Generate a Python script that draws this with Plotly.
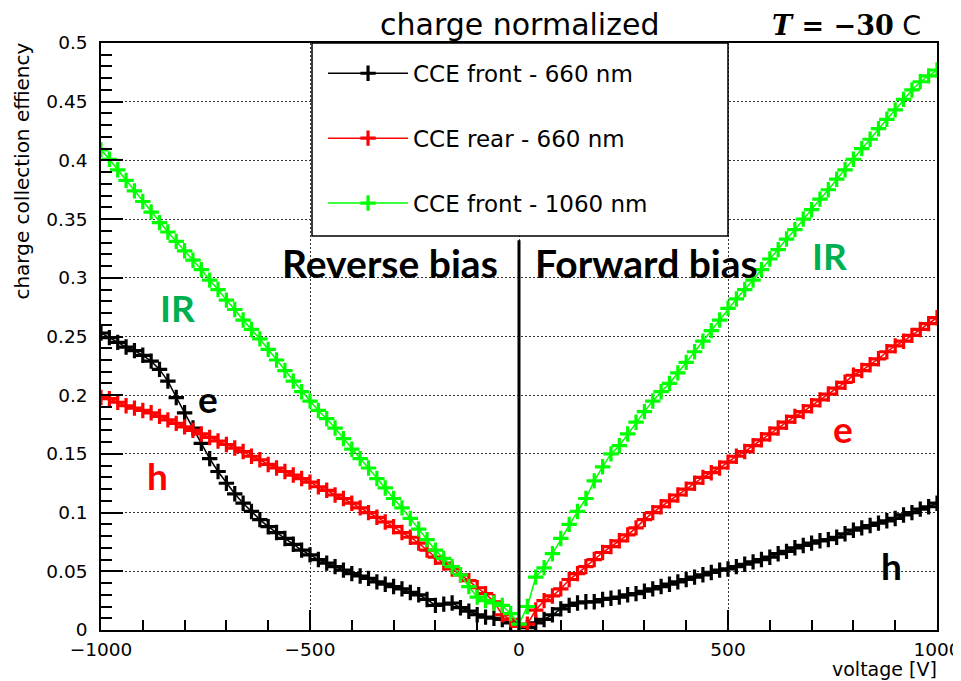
import plotly.graph_objects as go

# Voltage sample points [V]
voltage = list(range(-1000, 1001, 20))

# CCE front - 660 nm (black)
cce_front_660 = [
    0.253, 0.249, 0.245, 0.241, 0.238, 0.234, 0.229, 0.222, 0.212, 0.198,
    0.185, 0.172, 0.159, 0.146, 0.135, 0.125, 0.116, 0.108, 0.101, 0.094,
    0.088, 0.083, 0.078, 0.073, 0.068, 0.064, 0.060, 0.057, 0.054, 0.051,
    0.048, 0.046, 0.044, 0.041, 0.039, 0.037, 0.035, 0.032, 0.030, 0.026,
    0.021, 0.022, 0.023, 0.019, 0.016, 0.013, 0.011, 0.010, 0.009, 0.006,
    0.003,
    0.002, 0.006, 0.009, 0.013, 0.018, 0.021, 0.023, 0.024, 0.024, 0.026,
    0.027, 0.028, 0.030, 0.031, 0.033, 0.035, 0.037, 0.039, 0.041, 0.043,
    0.045, 0.047, 0.049, 0.051, 0.052, 0.054, 0.056, 0.058, 0.060, 0.062,
    0.065, 0.067, 0.070, 0.072, 0.074, 0.076, 0.077, 0.079, 0.082, 0.085,
    0.087, 0.089, 0.091, 0.093, 0.095, 0.098, 0.100, 0.103, 0.105, 0.108,
]

# CCE rear - 660 nm (red)
cce_rear_660 = [
    0.198, 0.197, 0.194, 0.191, 0.189, 0.187, 0.185, 0.182, 0.179, 0.176,
    0.173, 0.170, 0.167, 0.164, 0.161, 0.158, 0.155, 0.152, 0.148, 0.145,
    0.141, 0.138, 0.135, 0.132, 0.129, 0.126, 0.122, 0.119, 0.115, 0.112,
    0.108, 0.104, 0.100, 0.096, 0.092, 0.088, 0.083, 0.079, 0.074, 0.068,
    0.062, 0.057, 0.052, 0.047, 0.042, 0.036, 0.031, 0.024, 0.013, 0.009,
    0.003,
    0.005, 0.017, 0.025, 0.029, 0.035, 0.043, 0.048, 0.054, 0.060, 0.066,
    0.071, 0.076, 0.081, 0.087, 0.094, 0.100, 0.105, 0.110, 0.115, 0.120,
    0.125, 0.130, 0.134, 0.138, 0.143, 0.148, 0.152, 0.157, 0.162, 0.167,
    0.172, 0.177, 0.182, 0.186, 0.191, 0.196, 0.201, 0.206, 0.211, 0.217,
    0.221, 0.226, 0.231, 0.237, 0.242, 0.246, 0.251, 0.256, 0.261, 0.266,
]

# CCE front - 1060 nm (green)
cce_front_1060 = [
    0.409, 0.401, 0.392, 0.383, 0.374, 0.365, 0.356, 0.347, 0.339, 0.331,
    0.323, 0.315, 0.307, 0.298, 0.290, 0.281, 0.273, 0.264, 0.256, 0.248,
    0.239, 0.230, 0.221, 0.212, 0.203, 0.195, 0.187, 0.180, 0.172, 0.163,
    0.154, 0.146, 0.138, 0.129, 0.121, 0.112, 0.104, 0.095, 0.086, 0.077,
    0.068, 0.061, 0.054, 0.047, 0.037, 0.028, 0.025, 0.023, 0.021, 0.014,
    0.005,
    0.020, 0.045, 0.053, 0.065, 0.078, 0.090, 0.101, 0.112, 0.127, 0.139,
    0.150, 0.157, 0.167, 0.177, 0.186, 0.195, 0.203, 0.210, 0.219, 0.228,
    0.237, 0.246, 0.255, 0.264, 0.274, 0.282, 0.290, 0.298, 0.307, 0.316,
    0.324, 0.333, 0.341, 0.350, 0.358, 0.367, 0.375, 0.384, 0.392, 0.401,
    0.410, 0.418, 0.427, 0.435, 0.443, 0.452, 0.460, 0.467, 0.472, 0.477,
]

series_names = ["CCE front - 660 nm", "CCE rear - 660 nm", "CCE front - 1060 nm"]
series_values = [cce_front_660, cce_rear_660, cce_front_1060]
series_colors = ["#000000", "#ff0000", "#00ff00"]

ROOT_FONT = "DejaVu Sans"
LABEL_FONT = "Lato"

fig = go.Figure()
for i, (name, vals, col) in enumerate(zip(series_names, series_values, series_colors)):
    fig.add_trace(go.Scatter(
        x=voltage, y=vals, name=name, mode="lines+markers",
        line=dict(color=col, width=1.5),
        marker=dict(symbol="cross-thin", size=11, color=col,
                    line=dict(color=col, width=3.2)),
        legendgroup=f"g{i}",
    ))

axis_common = dict(
    showline=True, linecolor="black", linewidth=1.5, mirror=True,
    ticks="inside", tickcolor="black", tickwidth=1.5,
    showgrid=True, gridcolor="#333333", griddash="2px,2px", gridwidth=1,
    zeroline=False, ticklabeloverflow="allow",
    tickfont=dict(family=ROOT_FONT, size=18.5, color="black"),
)

fig.update_xaxes(
    range=[-1000, 1000], tickvals=[-1000, -500, 0, 500, 1000],
    ticklen=20,
    minor=dict(dtick=100, ticklen=10, ticks="inside", tickcolor="black",
               tickwidth=1.5, showgrid=False),
    ticklabelstandoff=2,
    **axis_common,
)
fig.update_yaxes(
    range=[0, 0.5], dtick=0.05, ticklen=22,
    minor=dict(dtick=0.01, ticklen=11, ticks="inside", tickcolor="black",
               tickwidth=1.5, showgrid=False),
    ticklabelstandoff=8,
    **axis_common,
)

# Legend frame (opaque box as in the ROOT canvas)
fig.add_shape(type="rect", xref="paper", yref="paper",
              x0=0.2524, x1=0.75, y0=0.671, y1=1.0,
              line=dict(color="black", width=1.5), fillcolor="white",
              layer="above")
# Separator between reverse and forward bias
fig.add_shape(type="line", xref="x", yref="y", x0=0, x1=0, y0=0, y1=0.332,
              line=dict(color="black", width=3), layer="above")

annotations = [
    dict(text="charge normalized", x=0.501, y=1.031, xref="paper", yref="paper",
         font=dict(family=ROOT_FONT, size=30, color="black")),
    dict(text="<b><i>T</i> = −30</b> <span style='font-family:DejaVu Sans'>C</span>",
         x=0.892, y=1.03, xref="paper", yref="paper",
         font=dict(family="DejaVu Serif", size=27, color="black")),
    dict(text="charge collection effiency", x=-0.0945, y=1.005,
         xref="paper", yref="paper", textangle=-90, yanchor="top",
         font=dict(family=ROOT_FONT, size=20, color="black")),
    dict(text="voltage [V]", x=1.002, y=-0.066, xref="paper", yref="paper",
         xanchor="right", font=dict(family=ROOT_FONT, size=19, color="black")),
    dict(text="<b>Reverse bias</b>", x=-309, y=0.313, xref="x", yref="y",
         font=dict(family=LABEL_FONT, size=39, color="black")),
    dict(text="<b>Forward bias</b>", x=306, y=0.313, xref="x", yref="y",
         font=dict(family=LABEL_FONT, size=39, color="black")),
    dict(text="<b>IR</b>", x=-816, y=0.275, xref="x", yref="y",
         font=dict(family=LABEL_FONT, size=37, color="#00b050")),
    dict(text="<b>IR</b>", x=744, y=0.319, xref="x", yref="y",
         font=dict(family=LABEL_FONT, size=37, color="#00b050")),
    dict(text="<b>e</b>", x=-744, y=0.197, xref="x", yref="y",
         font=dict(family=LABEL_FONT, size=37, color="black")),
    dict(text="<b>h</b>", x=-866, y=0.132, xref="x", yref="y",
         font=dict(family=LABEL_FONT, size=37, color="#ff0000")),
    dict(text="<b>e</b>", x=775, y=0.172, xref="x", yref="y",
         font=dict(family=LABEL_FONT, size=37, color="#ff0000")),
    dict(text="<b>h</b>", x=890, y=0.055, xref="x", yref="y",
         font=dict(family=LABEL_FONT, size=37, color="black")),
]
for a in annotations:
    a.setdefault("showarrow", False)
    a.setdefault("xanchor", "center")
    a.setdefault("yanchor", "middle")
    fig.add_annotation(**a)

# The page body adds an 8 px offset; size the figure to fill the window.
fig.update_layout(
    width=953, height=673,
    margin=dict(l=93, r=24, t=35, b=51, autoexpand=False),
    plot_bgcolor="white", paper_bgcolor="white",
    showlegend=True,
    legend=dict(
        x=0.2656, y=0.985, xanchor="left", yanchor="top",
        bgcolor="rgba(0,0,0,0)", borderwidth=0,
        font=dict(family=ROOT_FONT, size=23, color="black"),
        tracegroupgap=32, itemwidth=80,
    ),
)

fig.write_html("out.html")
